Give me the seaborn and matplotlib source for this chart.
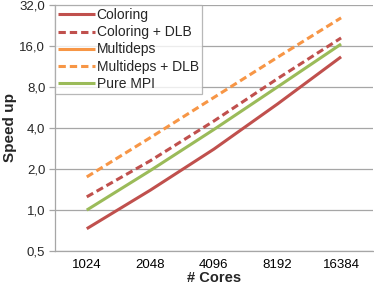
import numpy as np
import pandas as pd
import matplotlib
matplotlib.use("Agg")
import matplotlib.pyplot as plt
from matplotlib.lines import Line2D
from matplotlib.ticker import FixedLocator, FuncFormatter
import seaborn as sns

# data
cores = ["1024", "2048", "4096", "8192", "16384"]
coloring = [0.73, 1.4, 2.8, 6.0, 13.3]
coloring_dlb = [1.25, 2.3, 4.5, 9.2, 18.3]
multideps = [np.nan, np.nan, np.nan, np.nan, np.nan]   # not visible in the chart
multideps_dlb = [1.75, 3.4, 6.7, 13.2, 25.7]
pure_mpi = [1.0, 1.95, 3.9, 8.0, 16.5]

RED = "#C0504D"
ORANGE = "#F79646"
GREEN = "#9BBB59"
GRID = "#A6A6A6"

DASH = (0, (2.4, 1.3))
series = [
    ("Coloring", coloring, RED, "-"),
    ("Coloring + DLB", coloring_dlb, RED, DASH),
    ("Multideps", multideps, ORANGE, "-"),
    ("Multideps + DLB", multideps_dlb, ORANGE, DASH),
    ("Pure MPI", pure_mpi, GREEN, "-"),
]

sns.set_style("white")
plt.rcParams["font.family"] = ["Liberation Sans", "DejaVu Sans"]

fig = plt.figure(figsize=(3.74, 2.86), dpi=100)
ax = fig.add_axes([0.147, 0.122, 0.85, 0.861])

LW = 2.2
pos = np.arange(len(cores))
handles = []
for name, vals, col, ls in series:
    df = pd.DataFrame({"x": pos, "y": vals}).dropna()
    if len(df):
        sns.lineplot(data=df, x="x", y="y", ax=ax, color=col, lw=LW,
                     linestyle=ls, zorder=3)
        ax.lines[-1].set_dash_capstyle("butt")
        ax.lines[-1].set_solid_capstyle("butt")
    handles.append(Line2D([], [], color=col, lw=LW, linestyle=ls,
                          dash_capstyle="butt", solid_capstyle="butt", label=name))

# log2 y axis with comma decimals
ax.set_yscale("log", base=2)
ax.set_ylim(0.5, 32)
ax.yaxis.set_major_locator(FixedLocator([0.5, 1, 2, 4, 8, 16, 32]))
ax.yaxis.set_minor_locator(FixedLocator([]))
ax.yaxis.set_major_formatter(FuncFormatter(lambda v, p: f"{v:.1f}".replace(".", ",")))
ax.grid(axis="y", color=GRID, lw=0.9)
ax.set_axisbelow(True)

ax.set_xlim(-0.5, len(cores) - 0.5)
ax.set_xticks(pos)
ax.set_xticklabels(cores)
ax.set_xticks(np.arange(-0.5, len(cores)), minor=True)
ax.tick_params(axis="x", which="major", length=0, pad=6, labelsize=9.5, colors="black")
ax.tick_params(axis="x", which="minor", length=4, width=0.9, color=GRID, direction="out")
ax.tick_params(axis="y", which="major", length=4, width=0.9, color=GRID, labelsize=9.5,
               left=True, pad=3)

for s in ["top", "right"]:
    ax.spines[s].set_visible(False)
for s in ["left", "bottom"]:
    ax.spines[s].set_color(GRID)
    ax.spines[s].set_linewidth(0.9)

ax.set_xlabel("# Cores", fontsize=10.5, fontweight="bold", labelpad=0)
ax.set_ylabel("Speed up", fontsize=11, fontweight="bold", labelpad=2)

leg = ax.legend(handles=handles, loc="upper left", bbox_to_anchor=(0, 1),
                borderaxespad=0, fontsize=10, frameon=True, fancybox=False,
                handlelength=2.6, handletextpad=0.15, labelspacing=0.22,
                borderpad=0.25)
leg.get_frame().set_edgecolor(GRID)
leg.get_frame().set_linewidth(0.9)
leg.set_zorder(5)

fig.savefig("out.png", dpi=100)
